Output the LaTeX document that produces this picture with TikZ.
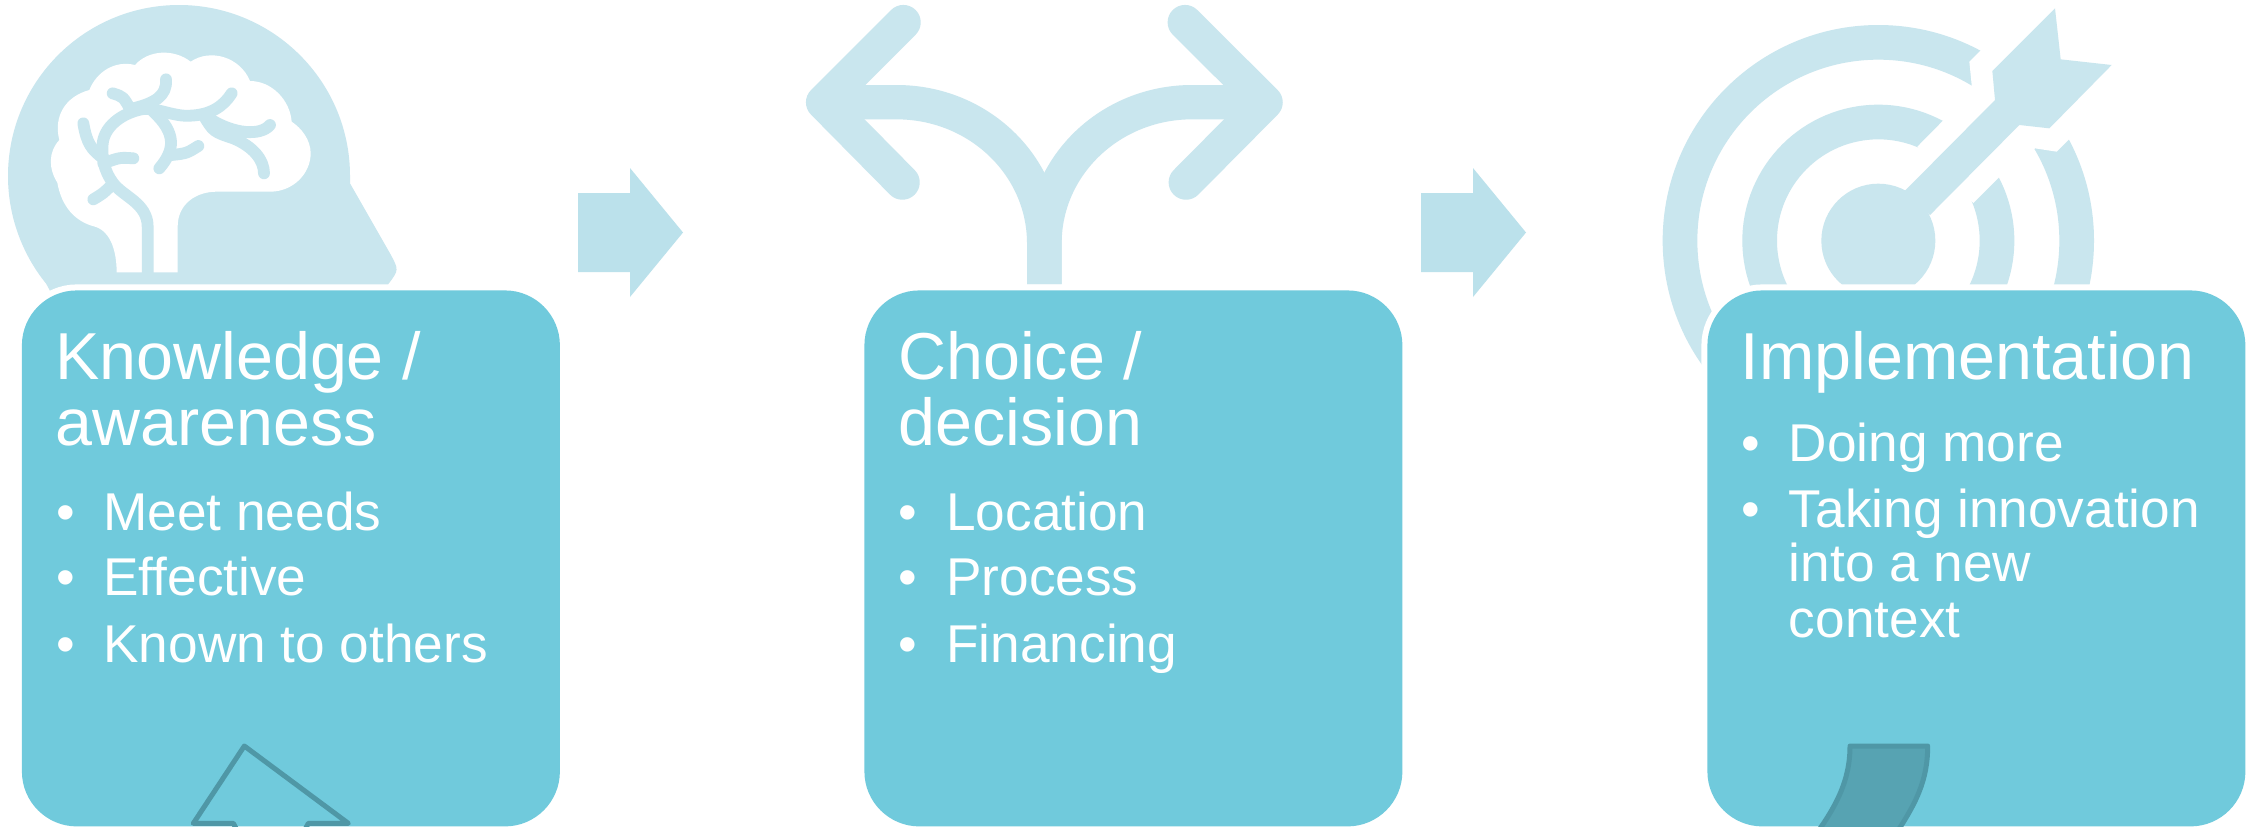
\documentclass[tikz,border=0pt]{standalone}
\usepackage{fontspec}
\setmainfont{Liberation Sans}
\definecolor{boxc}{HTML}{70CADC}
\definecolor{iconc}{HTML}{C9E6EE}
\definecolor{arrowc}{HTML}{BBE1EB}
\definecolor{darkc}{HTML}{4F97A6}
\definecolor{darkf}{HTML}{57A3B2}
\tikzset{
  stagebox/.style={rectangle,rounded corners=27.5pt,fill=boxc,inner sep=0pt,
    minimum width=269pt,minimum height=268pt,anchor=north west,
    preaction={draw=white,line width=6pt}},
  head/.style={anchor=base west,inner sep=0pt,text=white,font=\fontsize{33.2pt}{36pt}\selectfont},
  item/.style={anchor=base west,inner sep=0pt,text=white,font=\fontsize{26.6pt}{30pt}\selectfont},
  blockarrow/.style={fill=arrowc},
  icon/.style={x=0.166667pt,y=-0.166667pt},
  vein/.style={draw=iconc,line width=5.9pt,line cap=round,line join=round},
  bigstroke/.style={draw=iconc,line width=17.4pt,line join=round},
  ring/.style={draw=iconc,line width=17.33pt},
  darkline/.style={draw=darkc,line width=2.5pt,line join=round,line cap=round}
}
\begin{document}
\begin{tikzpicture}[x=0.5pt,y=-0.5pt]
\useasboundingbox (0,0) rectangle (2251,826);
\fill[white] (0,0) rectangle (2251,826);
% brain icon
\begin{scope}[icon]
  \fill[iconc] (1050,528) arc (0:-219:513) -- (165,900) -- (1150,900) -- (1165,852)
     .. controls (1197,810) .. (1170,760) -- (1050,550) -- cycle;
  \fill[white] (533,817) -- (533,680) .. controls (533,610) and (590,575) .. (650,575)
     -- (810,575) .. controls (880,575) and (932,520) .. (932,460)
     .. controls (932,420) and (905,385) .. (875,365)
     .. controls (870,300) and (815,243) .. (750,243)
     .. controls (720,170) and (630,145) .. (572,185)
     .. controls (520,145) and (445,150) .. (405,195)
     .. controls (345,180) and (290,215) .. (268,270)
     .. controls (195,290) and (160,350) .. (178,420)
     .. controls (145,455) and (145,505) .. (172,548)
     .. controls (185,620) and (225,665) .. (285,680)
     .. controls (335,695) and (350,760) .. (350,817) -- cycle;
  \draw[vein] (443,830) -- (443,680) .. controls (443,610) and (370,590) .. (340,550)
     .. controls (310,510) and (305,470) .. (308,430)
     .. controls (315,370) and (380,335) .. (430,327)
     .. controls (480,325) and (520,350) .. (570,347)
     .. controls (630,345) and (670,320) .. (695,280);
  \draw[vein] (498,238) .. controls (502,290) and (460,310) .. (400,325);
  \draw[vein] (338,280) .. controls (370,290) .. (392,330);
  \draw[vein] (250,370) .. controls (260,430) and (275,450) .. (310,475);
  \draw[vein] (400,475) .. controls (360,472) .. (310,490);
  \draw[vein] (280,598) .. controls (310,580) .. (335,555);
  \draw[vein] (460,335) .. controls (530,400) and (525,450) .. (478,505);
  \draw[vein] (595,438) .. controls (560,460) .. (515,465);
  \draw[vein] (610,345) .. controls (640,395) .. (700,415) .. controls (760,440) and (792,480) .. (792,520);
  \draw[vein] (810,375) .. controls (780,410) and (700,400) .. (635,360);
\end{scope}
% fork icon
\begin{scope}[icon,xshift=390pt]
  \draw[bigstroke,line cap=round] (370,67) -- (130,307) -- (367,547);
  \draw[bigstroke,line cap=round] (1215,67) -- (1456,307) -- (1218,547);
  \fill[iconc] (130,255) -- (350,255) arc (-90:0:495 and 475) -- (845,853) -- (741,853) -- (741,730)
     arc (0:-90:391 and 372) -- (130,358) -- cycle;
  \fill[iconc] (1456,255) -- (1236,255) arc (-90:-180:495 and 475) -- (741,853) -- (845,853) -- (845,730)
     arc (-180:-90:391 and 372) -- (1456,358) -- cycle;
\end{scope}
% target icon
\begin{scope}[icon,xshift=820pt]
  \draw[ring] (715,722) circle (595);
  \draw[ring] (715,722) circle (356);
  \fill[white] (832,440) -- (908,363) -- (995,276) -- (995,255) -- (988,185) -- (1020,153) -- (1100,73)
     -- (1440,73) -- (1440,265) -- (1285,420) -- (1250,455) -- (1185,445) -- (1077,532) -- (1000,609) -- cycle;
  \fill[iconc] (715,722) circle (171);
  \fill[iconc] (795,572) -- (1065,300) -- (1057,213) -- (1245,25) -- (1262,178) -- (1415,195)
     -- (1228,385) -- (1138,375) -- (870,645) -- cycle;
\end{scope}
% block arrows
\fill[blockarrow] (578,193) -- (630,193) -- (630,168) -- (683,232.5) -- (630,297) -- (630,272) -- (578,272) -- cycle;
\fill[blockarrow] (1421,193) -- (1473,193) -- (1473,168) -- (1526,232.5) -- (1473,297) -- (1473,272) -- (1421,272) -- cycle;
% boxes
\node[stagebox] (b1) at (21.5,290) {};
\node[stagebox] (b2) at (864,290) {};
\node[stagebox] (b3) at (1707,290) {};
% box 1 text
\node[head] (h1a) at (55,379) {Knowledge /};
\node[head] (h1b) at (55,445.7) {awareness};
\node[item] (d1a) at (56,530.7) {•};
\node[item] (t1a) at (103,530.7) {Meet needs};
\node[item] (d1b) at (56,595) {•};
\node[item] (t1b) at (103,595) {Effective};
\node[item] (d1c) at (56,662) {•};
\node[item] (t1c) at (103,662) {Known to others};
% box 2 text
\node[head] (h2a) at (898,379) {Choice /};
\node[head] (h2b) at (898,445.7) {decision};
\node[item] (d2a) at (898.5,530.7) {•};
\node[item] (t2a) at (946,530.7) {Location};
\node[item] (d2b) at (898.5,595) {•};
\node[item] (t2b) at (946,595) {Process};
\node[item] (d2c) at (898.5,662) {•};
\node[item] (t2c) at (946,662) {Financing};
% box 3 text
\node[head] (h3a) at (1740.5,379) {Implementation};
\node[item] (d3a) at (1741,461.7) {•};
\node[item] (t3a) at (1788.5,461.7) {Doing more};
\node[item] (d3b) at (1741,527.7) {•};
\node[item] (t3b) at (1788.5,527.7) {Taking innovation};
\node[item] (t3c) at (1788.5,581.7) {into a new};
\node[item] (t3d) at (1788.5,637.7) {context};
% dark partial shapes
\begin{scope}
  \clip (0,0) rectangle (2251,826);
  \begin{scope}[icon,xshift=75pt,yshift=-350pt]
    \draw[darkline] (262,392) -- (250,370) -- (130,370) -- (283,138) -- (595,370) -- (475,370) -- (463,392);
  \end{scope}
  \begin{scope}[icon,xshift=890pt,yshift=-350pt]
    \fill[darkf,draw=darkc,line width=2.5pt,line join=round] (210,138) -- (443,138) .. controls (443,240) and (410,310) .. (335,420)
      -- (95,420) .. controls (170,320) and (210,240) .. (210,138) -- cycle;
  \end{scope}
\end{scope}
\end{tikzpicture}
\end{document}
